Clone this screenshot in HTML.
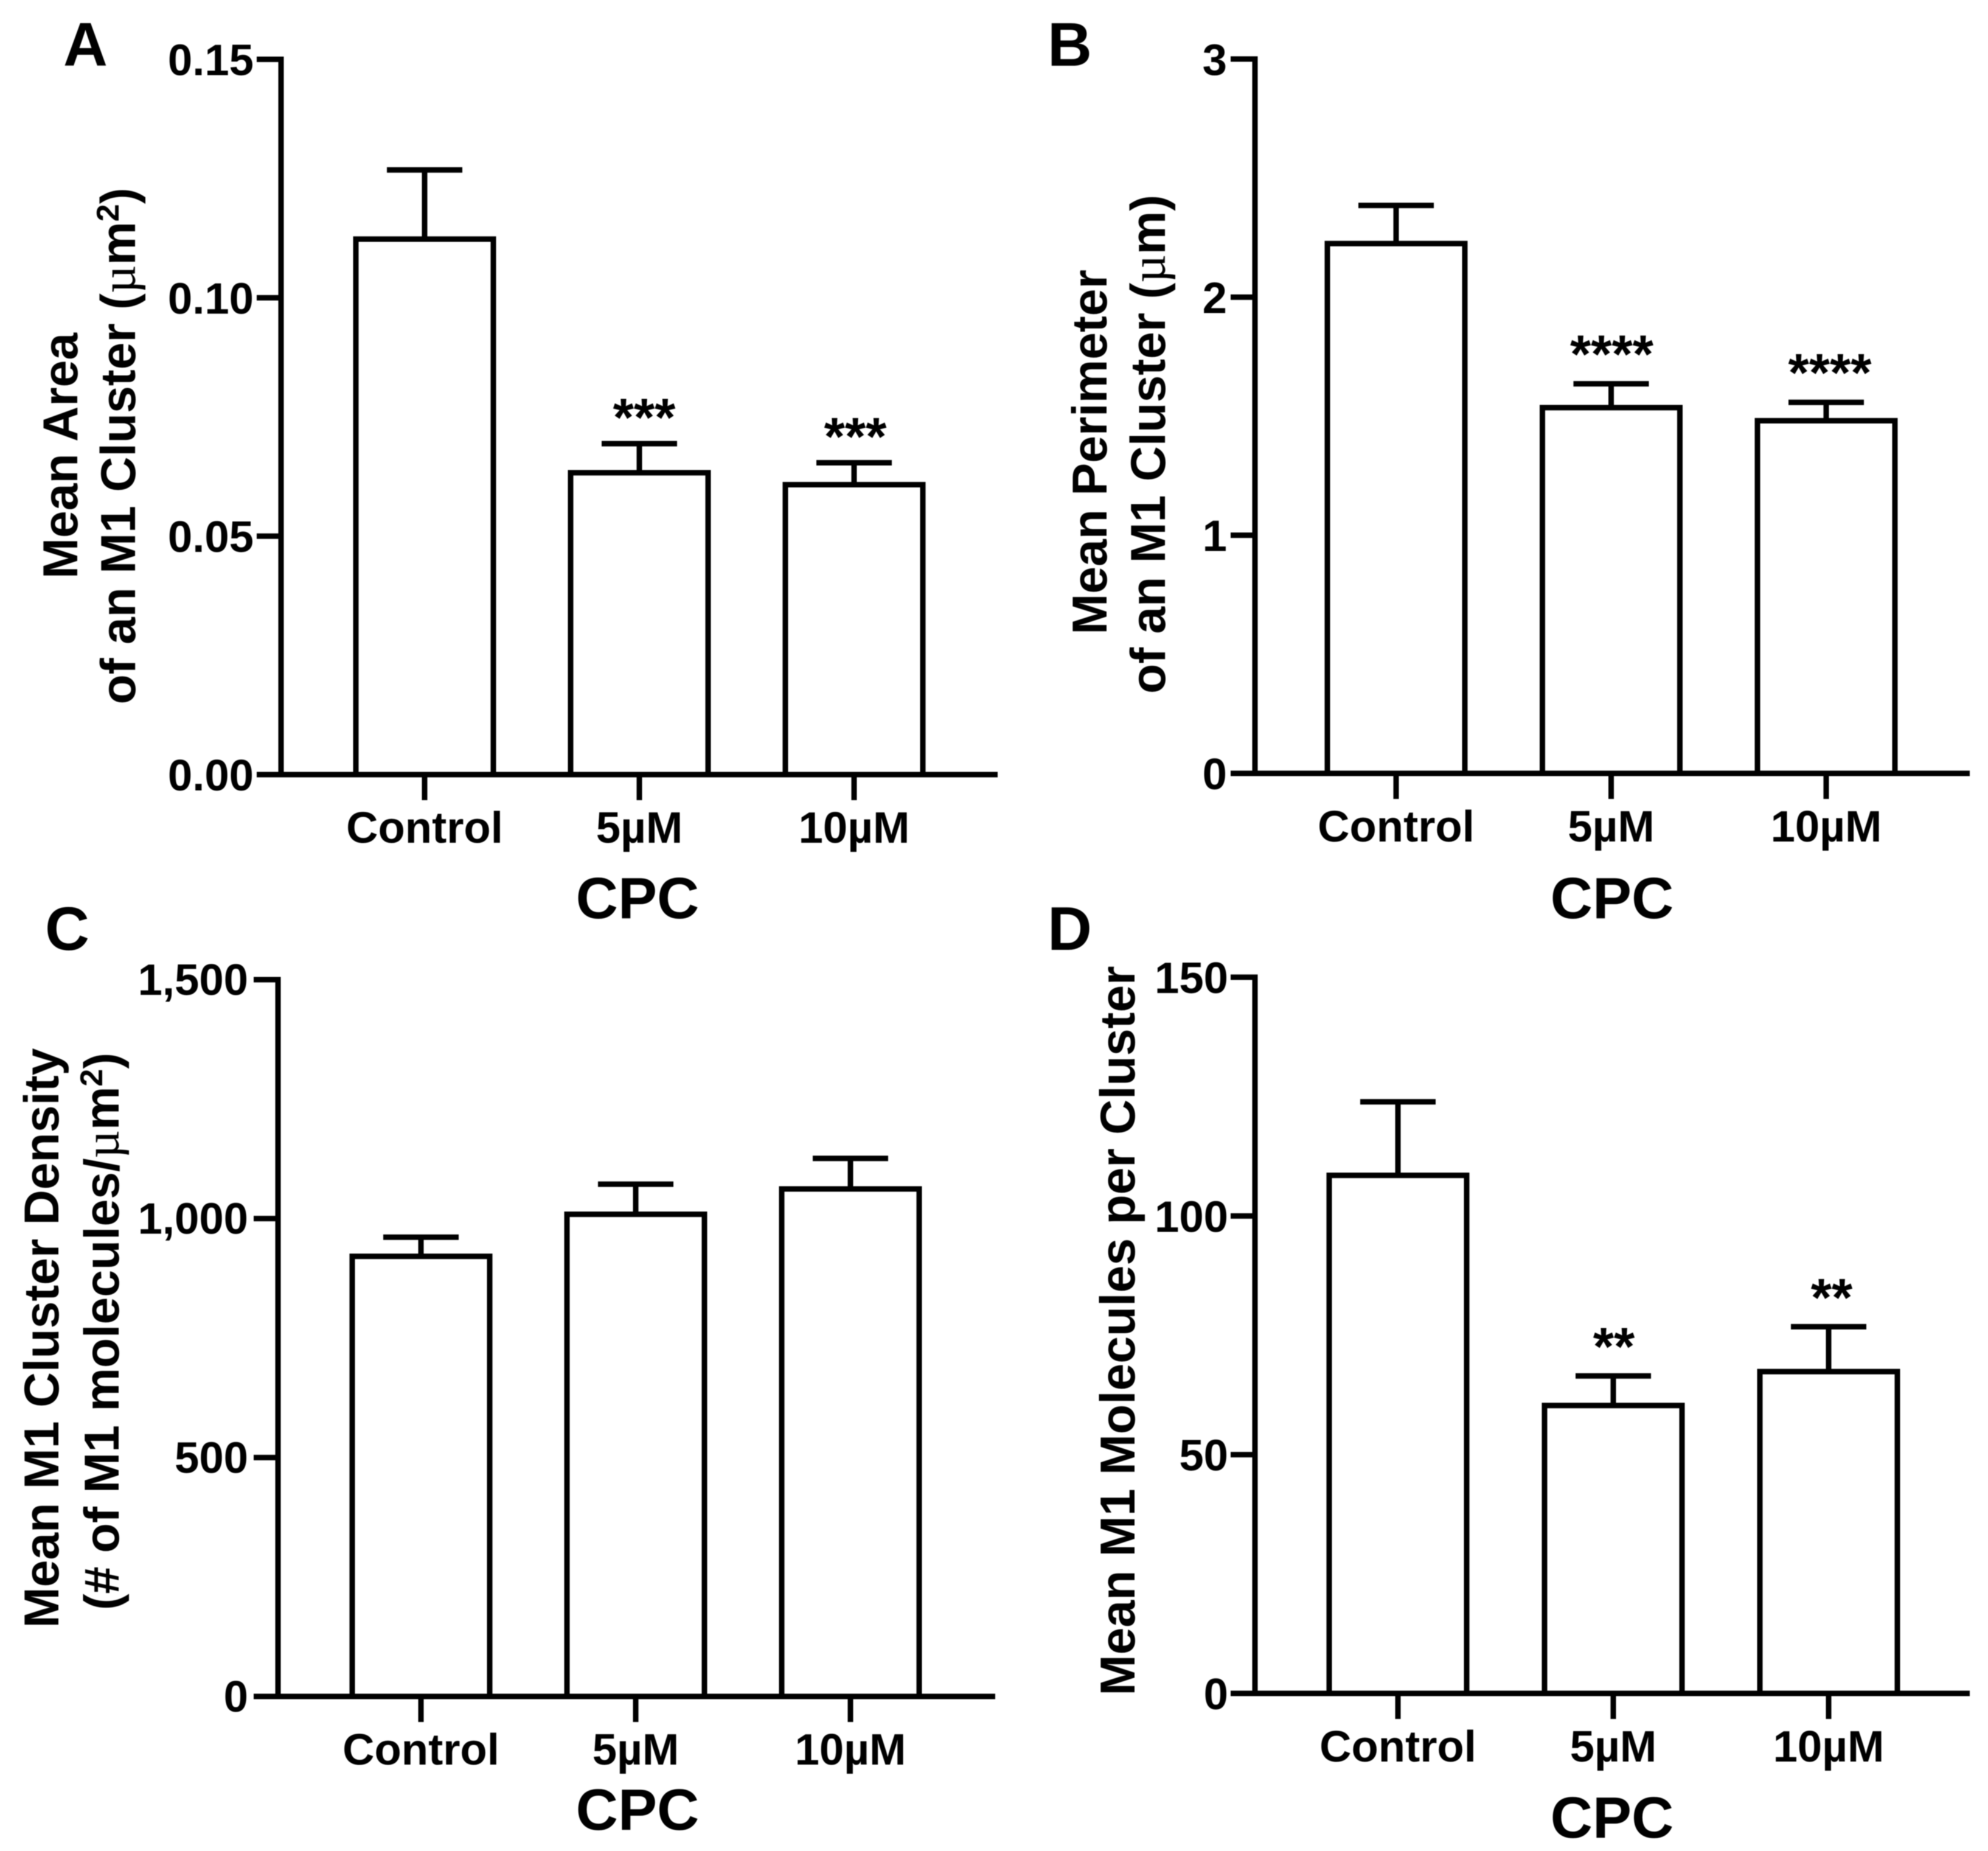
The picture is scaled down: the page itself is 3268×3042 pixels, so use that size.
<!DOCTYPE html>
<html lang="en">
<head>
<meta charset="utf-8">
<title>M1 cluster measurements with CPC</title>
<style>
html,body{margin:0;padding:0;background:#fff}
svg{display:block;filter:blur(0.7px)}
text{font-family:"Liberation Sans",sans-serif;font-weight:700;fill:#000}
.letter{font-size:101px}
.ytitle{font-size:80.5px;text-anchor:middle}
.xtitle{font-size:96px;text-anchor:middle}
.sym{font-family:"Liberation Serif",serif;font-weight:400}
</style>
</head>
<body>
<svg id="figure" xmlns="http://www.w3.org/2000/svg" width="3268" height="3042" viewBox="0 0 3268 3042">
<rect width="3268" height="3042" fill="#fff"/>

<text class="letter" x="104" y="108">A</text>
<text class="letter" x="1722" y="108">B</text>
<text class="letter" x="74" y="1561">C</text>
<text class="letter" x="1722" y="1561">D</text>

<g id="panel-a">
  <text class="ytitle" transform="translate(127,749) rotate(-90)">Mean Area</text>
  <text class="ytitle" transform="translate(222,733) rotate(-90)">of an M1 Cluster (<tspan class="sym">µ</tspan>m<tspan dy="-27" font-size="52">2</tspan><tspan dy="27">)</tspan></text>
  <text class="xtitle" x="1048" y="1509">CPC</text>
</g>
<g id="panel-b">
  <text class="ytitle" transform="translate(1819,743) rotate(-90)">Mean Perimeter</text>
  <text class="ytitle" transform="translate(1915,730) rotate(-90)">of an M1 Cluster (<tspan class="sym">µ</tspan>m)</text>
  <text class="xtitle" x="2650" y="1509">CPC</text>
</g>
<g id="panel-c">
  <text class="ytitle" transform="translate(96,2199) rotate(-90)">Mean M1 Cluster Density</text>
  <text class="ytitle" transform="translate(195,2188) rotate(-90)">(# of M1 molecules/<tspan class="sym">µ</tspan>m<tspan dy="-27" font-size="52">2</tspan><tspan dy="27">)</tspan></text>
  <text class="xtitle" x="1048" y="3007">CPC</text>
</g>
<g id="panel-d">
  <text class="ytitle" transform="translate(1865,2187) rotate(-90)">Mean M1 Molecules per Cluster</text>
  <text class="xtitle" x="2650" y="3020">CPC</text>
</g>
</svg>

<script>
const categories = ["Control", "5µM", "10µM"];

const panelAMeans = [0.1123, 0.0633, 0.0608];
const panelAErrors = [0.0145, 0.0061, 0.0046];
const panelATicks = [0, 0.05, 0.10, 0.15];
const panelATickLabels = ["0.00", "0.05", "0.10", "0.15"];
const panelAStars = ["", "***", "***"];

const panelBMeans = [2.225, 1.536, 1.481];
const panelBErrors = [0.160, 0.100, 0.077];
const panelBTicks = [0, 1, 2, 3];
const panelBTickLabels = ["0", "1", "2", "3"];
const panelBStars = ["", "****", "****"];

const panelCMeans = [921, 1009, 1062];
const panelCErrors = [40, 63, 64];
const panelCTicks = [0, 500, 1000, 1500];
const panelCTickLabels = ["0", "500", "1,000", "1,500"];
const panelCStars = ["", "", ""];

const panelDMeans = [108.5, 60.3, 67.4];
const panelDErrors = [15.4, 6.2, 9.4];
const panelDTicks = [0, 50, 100, 150];
const panelDTickLabels = ["0", "50", "100", "150"];
const panelDStars = ["", "**", "**"];

const SVGNS = "http://www.w3.org/2000/svg";
const INK = "#000";
const STROKE = 9;
const TICK_LENGTH = 40;

function makeLine(parent, x1, y1, x2, y2) {
  const el = document.createElementNS(SVGNS, "line");
  el.setAttribute("x1", x1);
  el.setAttribute("y1", y1);
  el.setAttribute("x2", x2);
  el.setAttribute("y2", y2);
  el.setAttribute("stroke", INK);
  el.setAttribute("stroke-width", STROKE);
  parent.appendChild(el);
  return el;
}

function makeText(parent, x, y, size, anchor, content) {
  const el = document.createElementNS(SVGNS, "text");
  el.setAttribute("x", x);
  el.setAttribute("y", y);
  el.setAttribute("font-size", size);
  el.setAttribute("text-anchor", anchor);
  el.textContent = content;
  parent.appendChild(el);
  return el;
}

function drawPanel(id, means, errors, ticks, tickLabels, stars, frame) {
  const group = document.getElementById(id);
  const domainMax = ticks[ticks.length - 1];
  const yScale = v => frame.y0 - (v / domainMax) * (frame.y0 - frame.yTop);
  const xScale = i => frame.firstX + i * frame.step;

  means.forEach((mean, i) => {
    const cx = xScale(i);
    const topOfBar = yScale(mean);
    const capY = yScale(mean + errors[i]);

    const stem = makeLine(group, cx, capY, cx, topOfBar);
    
    

    const cap = makeLine(group, cx - 62, capY, cx + 62, capY);
    
    

    const bar = document.createElementNS(SVGNS, "rect");
    bar.setAttribute("x", cx - 113);
    bar.setAttribute("y", topOfBar);
    bar.setAttribute("width", 226);
    bar.setAttribute("height", frame.y0 - topOfBar);
    bar.setAttribute("fill", "#fff");
    bar.setAttribute("stroke", INK);
    bar.setAttribute("stroke-width", STROKE);
    
    
    group.appendChild(bar);

    if (stars[i]) {
      const star = makeText(group, cx + frame.starDx[i], capY - frame.starGap + 48, 88, "middle", stars[i]);
      
      
    }

    const xTick = makeLine(group, cx, frame.y0, cx, frame.y0 + 42);
    
    

    const xLabel = makeText(group, cx, frame.y0 + 112, 72.5, "middle", categories[i]);
    
    
  });

  const yAxis = makeLine(group, frame.x0, frame.yTop - STROKE / 2, frame.x0, frame.y0 + STROKE / 2);
  
  

  const xAxis = makeLine(group, frame.x0 - TICK_LENGTH, frame.y0, frame.xEnd, frame.y0);
  
  

  ticks.forEach((t, i) => {
    const ty = yScale(t);
    const yTick = makeLine(group, frame.x0 - TICK_LENGTH, ty, frame.x0, ty);
    
    

    const yLabel = makeText(group, frame.x0 - TICK_LENGTH - frame.labelGap, ty + frame.labelDrop, 72.5, "end", tickLabels[i]);
    
    
  });
}

drawPanel("panel-a", panelAMeans, panelAErrors, panelATicks, panelATickLabels, panelAStars,
  {x0: 462, xEnd: 1640, y0: 1273, yTop: 97.5, firstX: 698, step: 353, starGap: 61, starDx: [0, 8, 2], labelGap: 5, labelDrop: 26});
drawPanel("panel-b", panelBMeans, panelBErrors, panelBTicks, panelBTickLabels, panelBStars,
  {x0: 2063, xEnd: 3238, y0: 1271, yTop: 97, firstX: 2295, step: 353.5, starGap: 67, starDx: [0, 1, 6], labelGap: 6, labelDrop: 26});
drawPanel("panel-c", panelCMeans, panelCErrors, panelCTicks, panelCTickLabels, panelCStars,
  {x0: 457, xEnd: 1636, y0: 2788, yTop: 1610, firstX: 692, step: 353, starGap: 61, starDx: [0, 0, 0], labelGap: 9, labelDrop: 25});
drawPanel("panel-d", panelDMeans, panelDErrors, panelDTicks, panelDTickLabels, panelDStars,
  {x0: 2063, xEnd: 3238, y0: 2783, yTop: 1606, firstX: 2298, step: 354, starGap: 66, starDx: [0, 1, 5], labelGap: 4, labelDrop: 26});
</script>
</body>
</html>
